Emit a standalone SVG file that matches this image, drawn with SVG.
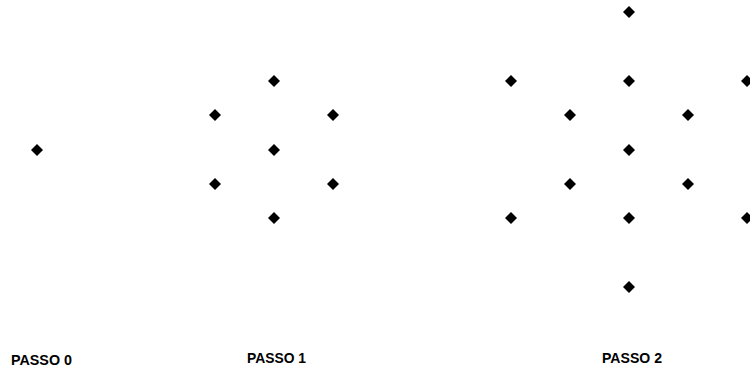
<svg xmlns="http://www.w3.org/2000/svg" width="750" height="367" viewBox="0 0 750 367">
<defs>
<style>
.lbl{font-family:"Liberation Sans",Arial,sans-serif;font-weight:bold;font-size:14px;fill:#000}
</style>
<path id="d" d="M0,-6 L6,0 L0,6 L-6,0 Z" fill="#000"/>
</defs>
<rect width="750" height="367" fill="#fff"/>
<g id="connectors"></g>
<g id="passo0">
<use href="#d" x="37" y="150"/>
<text class="lbl" x="11" y="365" textLength="61" lengthAdjust="spacingAndGlyphs">PASSO 0</text>
</g>
<g id="passo1">
<use href="#d" x="274" y="81"/>
<use href="#d" x="215" y="115"/>
<use href="#d" x="333" y="115"/>
<use href="#d" x="274" y="150"/>
<use href="#d" x="215" y="184"/>
<use href="#d" x="333" y="184"/>
<use href="#d" x="274" y="218"/>
<text class="lbl" x="247" y="363" textLength="59" lengthAdjust="spacingAndGlyphs">PASSO 1</text>
</g>
<g id="passo2">
<use href="#d" x="629" y="12"/>
<use href="#d" x="511" y="81"/>
<use href="#d" x="629" y="81"/>
<use href="#d" x="747" y="81"/>
<use href="#d" x="570" y="115"/>
<use href="#d" x="688" y="115"/>
<use href="#d" x="629" y="150"/>
<use href="#d" x="570" y="184"/>
<use href="#d" x="688" y="184"/>
<use href="#d" x="511" y="218"/>
<use href="#d" x="629" y="218"/>
<use href="#d" x="747" y="218"/>
<use href="#d" x="629" y="287"/>
<text class="lbl" x="602" y="363" textLength="60" lengthAdjust="spacingAndGlyphs">PASSO 2</text>
</g>
</svg>
